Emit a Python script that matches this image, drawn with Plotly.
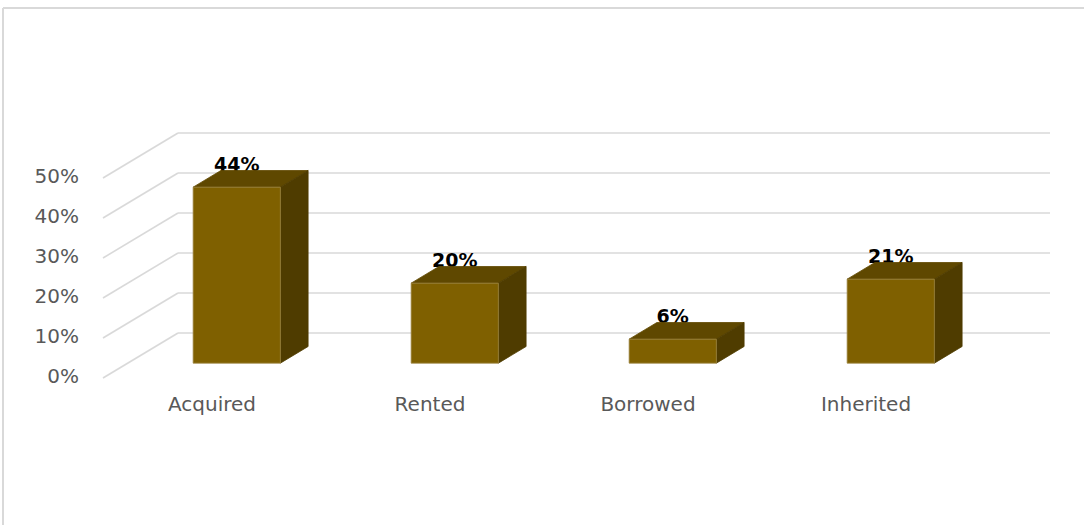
import plotly.graph_objects as go

# ---- data ----
categories = ["Acquired", "Rented", "Borrowed", "Inherited"]
values = [44, 20, 6, 21]
data_labels = ["44%", "20%", "6%", "21%"]
tick_values = [0, 10, 20, 30, 40, 50]
tick_labels = ["0%", "10%", "20%", "30%", "40%", "50%"]

# ---- 3D-look geometry (oblique projection in data units) ----
DX = 75 / 218      # full depth shift along x (category units)
DY = 11.25         # full depth shift along y (percent units)
F0, F1 = 0.33, 0.70  # bar front / back depth fraction
HW = 0.2           # bar half width (category units)
LABEL_OFF = 5.3    # data label offset above bar front top

FRONT = "#7F6000"
TOP = "#5F4800"
SIDE = "#4F3C00"
GRID = "#D9D9D9"
TXT = "#595959"

n = len(categories)
x_lo, x_hi = -0.5, n - 0.5


def proj(x, y, f):
    return x + f * DX, y + f * DY


fig = go.Figure()

# back wall gridlines and side-wall diagonals
gx, gy = [], []
for v in tick_values:
    a = proj(x_lo, v, 1)
    b = proj(x_hi, v, 1)
    gx += [a[0], b[0], None]
    gy += [a[1], b[1], None]
    c = proj(x_lo, v, 0)
    gx += [c[0], a[0], None]
    gy += [c[1], a[1], None]
fig.add_trace(go.Scatter(x=gx, y=gy, mode="lines",
                         line=dict(color=GRID, width=1.6),
                         hoverinfo="skip", showlegend=False))

# y tick labels
fig.add_trace(go.Scatter(x=[x_lo - 0.11] * len(tick_values), y=tick_values,
                         mode="text", text=tick_labels, textposition="middle left",
                         textfont=dict(family="DejaVu Sans", size=20, color=TXT),
                         hoverinfo="skip", showlegend=False))

# category labels
fig.add_trace(go.Scatter(x=list(range(n)), y=[-7] * n, mode="text",
                         text=categories, textposition="middle center",
                         textfont=dict(family="DejaVu Sans", size=20, color=TXT),
                         hoverinfo="skip", showlegend=False))

# data labels (drawn before bars so the bar top overlaps them slightly)
lx = [i + F0 * DX for i in range(n)]
ly = [v + F0 * DY + LABEL_OFF for v in values]
fig.add_trace(go.Scatter(x=lx, y=ly, mode="text", text=data_labels,
                         textposition="middle center",
                         textfont=dict(family="DejaVu Sans", size=19, color="#000000",
                                       weight="bold"),
                         hoverinfo="skip", showlegend=False))


def poly(pts, color, edge=None):
    xs = [p[0] for p in pts] + [pts[0][0]]
    ys = [p[1] for p in pts] + [pts[0][1]]
    fig.add_trace(go.Scatter(x=xs, y=ys, mode="lines", fill="toself",
                             fillcolor=color,
                             line=dict(color=edge or color, width=0.8),
                             hoverinfo="skip", showlegend=False))


for i, v in enumerate(values):
    l, r = i - HW, i + HW
    # top face
    poly([proj(l, v, F0), proj(r, v, F0), proj(r, v, F1), proj(l, v, F1)], TOP)
    # side face
    poly([proj(r, 0, F0), proj(r, 0, F1), proj(r, v, F1), proj(r, v, F0)], SIDE)
    # front face
    poly([proj(l, 0, F0), proj(r, 0, F0), proj(r, v, F0), proj(l, v, F0)], FRONT,
         edge="#9C8440")

# chart frame (top and left border)
fig.add_shape(type="line", xref="paper", yref="paper", x0=3 / 1084, x1=1,
              y0=1 - 8 / 525, y1=1 - 8 / 525, line=dict(color=GRID, width=2))
fig.add_shape(type="line", xref="paper", yref="paper", x0=3 / 1084, x1=3 / 1084,
              y0=0, y1=1 - 8 / 525, line=dict(color=GRID, width=2))

fig.update_layout(
    width=1084, height=525,
    margin=dict(l=0, r=0, t=0, b=0),
    paper_bgcolor="white", plot_bgcolor="white",
    xaxis=dict(range=[-0.9725, 4.0], visible=False, fixedrange=True),
    yaxis=dict(range=[-36.75, 94.5], visible=False, fixedrange=True),
    showlegend=False,
)

fig.write_html("out.html")
